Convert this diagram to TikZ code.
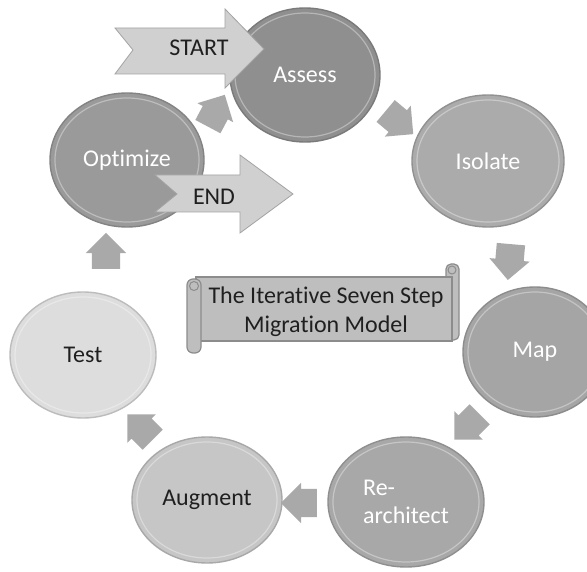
\documentclass[tikz,border=0pt]{standalone}
\usepackage{fontspec}
\setmainfont{Carlito}[Ligatures=NoCommon]
\usetikzlibrary{shapes.geometric,shapes.arrows}
\definecolor{cAssess}{HTML}{8F8F8F}
\definecolor{cOpt}{HTML}{9A9A9A}
\definecolor{cIso}{HTML}{ABABAB}
\definecolor{cMap}{HTML}{A5A5A5}
\definecolor{cRe}{HTML}{A8A8A8}
\definecolor{cAug}{HTML}{C6C6C6}
\definecolor{cTest}{HTML}{DDDDDD}
\definecolor{bigfill}{HTML}{D0D0D0}
\definecolor{bigdraw}{HTML}{A3A3A3}
\definecolor{smallarrow}{HTML}{A9A9A9}
\definecolor{scrollfill}{HTML}{BEBEBE}
\definecolor{scrolldraw}{HTML}{8C8C8C}
\newcommand{\mystep}[7]{%
  \node[stepbox=#5, text=#6, minimum width=#3, minimum height=#4] (#1) at (#2) {#7};
  \draw[white, opacity=0.35, line width=1.2pt] (#1.center) ellipse [x radius=#3/2-5, y radius=#4/2-5];
}
\begin{document}
\begin{tikzpicture}[x=1pt,y=-1pt,
  stepbox/.style={ellipse, draw=#1!85!black, line width=1.4pt, fill=#1, inner sep=0pt,
    font=\fontsize{24}{28}\selectfont, align=left},
  bigarrow/.style={fill=bigfill, draw=bigdraw, line width=0.8pt, line join=miter},
  bigtext/.style={font=\fontsize{24}{28}\selectfont, text=black!88},
  flowarrow/.style={single arrow, fill=smallarrow, draw=none, minimum height=36pt,
    inner xsep=0pt, inner ysep=14pt, single arrow head extend=6pt},
  scrollpart/.style={fill=scrollfill, draw=scrolldraw, line width=1.2pt},
]
\useasboundingbox (0,0) rectangle (587,572);
\fill[white] (0,0) rectangle (587,572);

% steps
\mystep{assess}{305,75}{150}{134}{cAssess}{white}{Assess}
\mystep{isolate}{488,161}{152}{132}{cIso}{white}{Isolate}
\mystep{map}{535,352}{144}{130}{cMap}{white}{Map}
\mystep{rearch}{406,502}{156}{130}{cRe}{white}{Re-\\architect}
\mystep{augment}{207,500}{150}{126}{cAug}{black!88}{Augment}
\mystep{test}{83,355}{146}{126}{cTest}{black!88}{Test}
\mystep{optimize}{127,160}{154}{134}{cOpt}{white}{Optimize}

% small cycle arrows
\node[flowarrow, rotate=62]   (a1) at (213,117) {};
\node[flowarrow, rotate=-40]  (a2) at (394,118) {};
\node[flowarrow, rotate=-95]  (a3) at (510,255) {};
\node[flowarrow, rotate=-135] (a4) at (472,422) {};
\node[flowarrow, rotate=180]  (a5) at (306,503) {};
\node[flowarrow, rotate=135]  (a6) at (145,432) {};
\node[flowarrow, rotate=90]   (a7) at (106,258) {};

% START and END arrows
\draw[bigarrow] (115,28) -- (225,28) -- (225,9) -- (264,49) -- (225,88) -- (225,74)
  -- (115,74) -- (133,50) -- cycle;
\node[bigtext] (start) at (199,48) {START};
\draw[bigarrow] (155,175) -- (240,175) -- (240,155) -- (293,194) -- (240,233) -- (240,212)
  -- (155,212) -- (177,194) -- cycle;
\node[bigtext] (end) at (214,197) {END};

% scroll banner
\draw[scrollpart, rounded corners=5] (446,264) rectangle (459,340);
\draw[scrollpart] (196,277) rectangle (452,341);
\draw[scrollpart, rounded corners=6] (187,279) rectangle (201,353);
\draw[scrolldraw, line width=1pt] (194,286) circle [radius=4.5];
\draw[scrolldraw, line width=1pt] (452,270) circle [radius=4];
\node[font=\fontsize{24}{29}\selectfont, align=center, text=black!88] (title) at (326,312)
  {The Iterative Seven Step\\Migration Model};
\end{tikzpicture}
\end{document}
